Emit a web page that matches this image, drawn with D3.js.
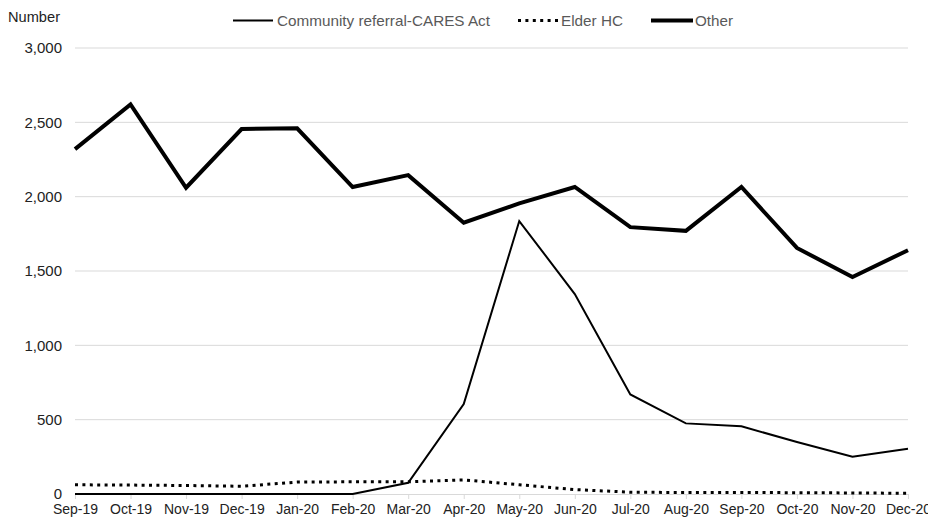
<!DOCTYPE html>
<html>
<head>
<meta charset="utf-8">
<script src="https://cdn.jsdelivr.net/npm/d3@7/dist/d3.min.js"></script>
<style>
  html, body { margin: 0; padding: 0; background: #fff; }
  svg { display: block; font-family: "Liberation Sans", Arial, sans-serif; }
</style>
</head>
<body>
<svg id="chart" width="928" height="520"></svg>
<script>
// Monthly counts by referral source
const months = ["Sep-19","Oct-19","Nov-19","Dec-19","Jan-20","Feb-20","Mar-20","Apr-20",
                "May-20","Jun-20","Jul-20","Aug-20","Sep-20","Oct-20","Nov-20","Dec-20"];
const communityCares = [0, 0, 0, 0, 0, 0, 75, 605, 1836, 1345, 670, 475, 455, 350, 250, 305];
const elderHC = [62, 60, 57, 52, 80, 82, 82, 95, 62, 30, 12, 10, 10, 9, 7, 5];
const other = [2320, 2620, 2060, 2455, 2460, 2065, 2145, 1825, 1955, 2065, 1795, 1770, 2065, 1655, 1460, 1640];
const yTicks = [0, 500, 1000, 1500, 2000, 2500, 3000];

const series = [
  { name: "Community referral-CARES Act", values: communityCares, width: 2, dash: null },
  { name: "Elder HC", values: elderHC, width: 3, dash: "3,4.4" },
  { name: "Other", values: other, width: 4, dash: null }
];

const svg = d3.select("#chart");
const plotLeft = 75, plotRight = 908, plotTop = 48, plotBottom = 494;
const font = "'Liberation Sans', Arial, sans-serif";

const x = d3.scalePoint().domain(months).range([plotLeft, plotRight]);
const y = d3.scaleLinear().domain([0, 3000]).range([plotBottom, plotTop]);

// Horizontal gridlines
svg.append("g")
  .selectAll("line")
  .data(yTicks.filter(d => d > 0))
  .join("line")
  .attr("x1", plotLeft).attr("x2", plotRight)
  .attr("y1", d => y(d)).attr("y2", d => y(d))
  .attr("stroke", "#d9d9d9").attr("stroke-width", 1);

// Y axis labels
const yAxis = svg.append("g")
  .attr("transform", `translate(${plotLeft},0)`)
  .call(d3.axisLeft(y).tickValues(yTicks).tickFormat(d3.format(",")).tickSize(0).tickPadding(13));
yAxis.select(".domain").remove();
yAxis.selectAll("text").attr("font-size", 15).attr("fill", "#222").attr("font-family", font);

// X axis with category ticks
const xAxis = svg.append("g")
  .attr("transform", `translate(0,${plotBottom})`)
  .call(d3.axisBottom(x).tickSize(5).tickPadding(5).tickSizeOuter(0));
xAxis.select(".domain").attr("stroke", "#d9d9d9").attr("d", `M${plotLeft},0.5H${plotRight}`);
xAxis.selectAll(".tick line").attr("stroke", "#d9d9d9");
xAxis.selectAll("text").attr("font-size", 14).attr("fill", "#222").attr("font-family", font);

// Axis title
svg.append("text")
  .attr("x", 8).attr("y", 22)
  .attr("font-size", 14).attr("fill", "#222")
  .attr("font-family", font)
  .attr("textLength", 52).attr("lengthAdjust", "spacingAndGlyphs")
  .text("Number");

// Series lines
const line = d3.line().x((d, i) => x(months[i])).y(d => y(d));
svg.append("g")
  .selectAll("path")
  .data(series)
  .join("path")
  .attr("d", d => line(d.values))
  .attr("fill", "none")
  .attr("stroke", "#000")
  .attr("stroke-width", d => d.width)
  .attr("stroke-dasharray", d => d.dash)
  .attr("stroke-linejoin", "miter");

// Legend
const legendItems = [
  { s: series[0], x0: 233, x1: 273, tx: 277, w: 213 },
  { s: series[1], x0: 518, x1: 558, tx: 561, w: 62 },
  { s: series[2], x0: 651, x1: 693, tx: 695, w: 38 }
];
const legend = svg.append("g");
legendItems.forEach(it => {
  legend.append("line")
    .attr("x1", it.x0).attr("x2", it.x1)
    .attr("y1", 20.5).attr("y2", 20.5)
    .attr("stroke", "#000")
    .attr("stroke-width", it.s.width)
    .attr("stroke-dasharray", it.s.dash);
  legend.append("text")
    .attr("x", it.tx).attr("y", 26)
    .attr("font-size", 15).attr("fill", "#595959")
    .attr("font-family", font)
    .attr("textLength", it.w).attr("lengthAdjust", "spacingAndGlyphs")
    .text(it.s.name);
});
</script>
</body>
</html>
